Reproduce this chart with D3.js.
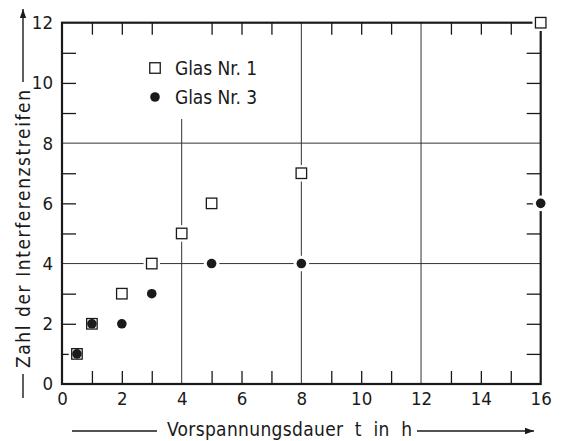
<!DOCTYPE html>
<html>
<head>
<meta charset="utf-8">
<script src="https://cdn.jsdelivr.net/npm/d3@7"></script>
<style>
  body { margin: 0; background: #fff; }
  text { font-family: 'DejaVu Sans Condensed', 'DejaVu Sans', sans-serif; fill: #1a1a1a; }
</style>
</head>
<body>
<div id="chart"></div>
<script>
// Glas Nr. 1 (squares)
const glas1T = [0.5, 1, 2, 3, 4, 5, 8, 16];
const glas1N = [1, 2, 3, 4, 5, 6, 7, 12];
// Glas Nr. 3 (dots)
const glas3T = [0.5, 1, 2, 3, 5, 8, 16];
const glas3N = [1, 2, 2, 3, 4, 4, 6];

const xTickLabels = [0, 2, 4, 6, 8, 10, 12, 14, 16];
const yTickLabels = [0, 2, 4, 6, 8, 10, 12];
const xGrid = [4, 8, 12];
const yGrid = [4, 8];
const legendLabels = ['Glas Nr. 1', 'Glas Nr. 3'];
const xTitle = 'Vorspannungsdauer  t  in  h';
const yTitle = 'Zahl der Interferenzstreifen';

const width = 561, height = 441;
const margin = {top: 22.7, right: 20.3, bottom: 57, left: 62};

const x = d3.scaleLinear().domain([0, 16]).range([margin.left, width - margin.right]);
const y = d3.scaleLinear().domain([0, 12]).range([height - margin.bottom, margin.top]);

const svg = d3.select('#chart').append('svg')
    .attr('width', width)
    .attr('height', height);

const ink = '#1a1a1a';

// grid lines (the one at t=4 stops below the legend)
svg.append('g').selectAll('line')
    .data(xGrid)
    .join('line')
    .attr('x1', d => x(d)).attr('x2', d => x(d))
    .attr('y1', y(0))
    .attr('y2', d => d === 4 ? y(8.8) : y(12))
    .attr('stroke', '#333').attr('stroke-width', 1);

svg.append('g').selectAll('line')
    .data(yGrid)
    .join('line')
    .attr('x1', x(0)).attr('x2', x(16))
    .attr('y1', d => y(d)).attr('y2', d => y(d))
    .attr('stroke', '#333').attr('stroke-width', 1);

// minor inward ticks on all four sides
const xMinor = d3.range(1, 16).filter(d => !xGrid.includes(d));
const yMinor = d3.range(1, 12).filter(d => !yGrid.includes(d));

function tickStyle(g) {
    g.select('.domain').remove();
    g.selectAll('.tick line').attr('stroke', ink).attr('stroke-width', 1.3);
    g.selectAll('.tick text').remove();
}

svg.append('g')
    .attr('transform', `translate(0,${y(0)})`)
    .call(d3.axisBottom(x).tickValues(xMinor).tickSize(-13))
    .call(tickStyle);
svg.append('g')
    .attr('transform', `translate(0,${y(12)})`)
    .call(d3.axisTop(x).tickValues(xMinor).tickSize(-12))
    .call(tickStyle);
svg.append('g')
    .attr('transform', `translate(${x(0)},0)`)
    .call(d3.axisLeft(y).tickValues(yMinor).tickSize(-14))
    .call(tickStyle);
svg.append('g')
    .attr('transform', `translate(${x(16)},0)`)
    .call(d3.axisRight(y).tickValues(yMinor).tickSize(-14))
    .call(tickStyle);

// frame
svg.append('rect')
    .attr('x', x(0)).attr('y', y(12))
    .attr('width', x(16) - x(0)).attr('height', y(0) - y(12))
    .attr('fill', 'none').attr('stroke', ink).attr('stroke-width', 2.2);

// tick labels
const xAxis = svg.append('g')
    .attr('transform', `translate(0,${y(0)})`)
    .call(d3.axisBottom(x).tickValues(xTickLabels).tickSize(0).tickPadding(8).tickFormat(d3.format('d')));
xAxis.select('.domain').remove();
xAxis.selectAll('text').attr('font-size', 18.5).style('font-family', null).attr('fill', ink);

const yAxis = svg.append('g')
    .attr('transform', `translate(${x(0)},0)`)
    .call(d3.axisLeft(y).tickValues(yTickLabels).tickSize(0).tickPadding(9).tickFormat(d3.format('d')));
yAxis.select('.domain').remove();
yAxis.selectAll('text').attr('font-size', 18.5).style('font-family', null).attr('fill', ink);

// markers with white halo
const sq = 10.5, r = 4.8;
const pts1 = glas1T.map((t, i) => ({t, n: glas1N[i]}));
const pts3 = glas3T.map((t, i) => ({t, n: glas3N[i]}));

const marks = svg.append('g');
marks.selectAll('rect.halo1')
    .data(pts1)
    .join('rect')
    .attr('x', d => x(d.t) - sq / 2 - 3).attr('y', d => y(d.n) - sq / 2 - 3)
    .attr('width', sq + 6).attr('height', sq + 6)
    .attr('fill', '#fff');
marks.selectAll('circle.halo3')
    .data(pts3)
    .join('circle')
    .attr('cx', d => x(d.t)).attr('cy', d => y(d.n))
    .attr('r', r + 3)
    .attr('fill', '#fff');
marks.selectAll('rect.m1')
    .data(pts1)
    .join('rect')
    .attr('x', d => x(d.t) - sq / 2).attr('y', d => y(d.n) - sq / 2)
    .attr('width', sq).attr('height', sq)
    .attr('fill', '#fff').attr('stroke', ink).attr('stroke-width', 1.3);
marks.selectAll('circle.m3')
    .data(pts3)
    .join('circle')
    .attr('cx', d => x(d.t)).attr('cy', d => y(d.n))
    .attr('r', r)
    .attr('fill', ink);

// legend
const legend = svg.append('g');
legend.append('rect')
    .attr('x', 155 - sq / 2).attr('y', 68 - sq / 2)
    .attr('width', sq).attr('height', sq)
    .attr('fill', '#fff').attr('stroke', ink).attr('stroke-width', 1.3);
legend.append('circle')
    .attr('cx', 155).attr('cy', 97).attr('r', r)
    .attr('fill', ink);
legend.selectAll('text')
    .data(legendLabels)
    .join('text')
    .attr('x', 175)
    .attr('y', (d, i) => 68 + i * 29)
    .attr('dy', '0.35em')
    .attr('font-size', 19)
    .attr('textLength', 82)
    .attr('lengthAdjust', 'spacing')
    .text(d => d);

// axis titles with arrows
svg.append('defs').append('marker')
    .attr('id', 'arrow')
    .attr('viewBox', '0 0 10 10')
    .attr('refX', 10).attr('refY', 5)
    .attr('markerWidth', 28).attr('markerHeight', 9)
    .attr('markerUnits', 'userSpaceOnUse')
    .attr('orient', 'auto')
    .append('path')
    .attr('d', 'M0,1.5 L10,5 L0,8.5 Z')
    .attr('fill', ink);

svg.append('text')
    .attr('x', 167).attr('y', 429.5)
    .attr('dy', '0.35em')
    .attr('font-size', 19)
    .style('white-space', 'pre')
    .attr('textLength', 245)
    .attr('lengthAdjust', 'spacing')
    .text(xTitle);
svg.append('line')
    .attr('x1', 72).attr('x2', 157).attr('y1', 431).attr('y2', 431)
    .attr('stroke', ink).attr('stroke-width', 1.4);
svg.append('line')
    .attr('x1', 417).attr('x2', 534).attr('y1', 431).attr('y2', 431)
    .attr('stroke', ink).attr('stroke-width', 1.4)
    .attr('marker-end', 'url(#arrow)');

svg.append('text')
    .attr('transform', 'translate(23,368) rotate(-90)')
    .attr('dy', '0.35em')
    .attr('font-size', 19)
    .attr('textLength', 278)
    .attr('lengthAdjust', 'spacing')
    .text(yTitle);
svg.append('line')
    .attr('x1', 23).attr('x2', 23).attr('y1', 398).attr('y2', 374)
    .attr('stroke', ink).attr('stroke-width', 1.4);
svg.append('line')
    .attr('x1', 23).attr('x2', 23).attr('y1', 82).attr('y2', 9)
    .attr('stroke', ink).attr('stroke-width', 1.4)
    .attr('marker-end', 'url(#arrow)');
</script>
</body>
</html>
